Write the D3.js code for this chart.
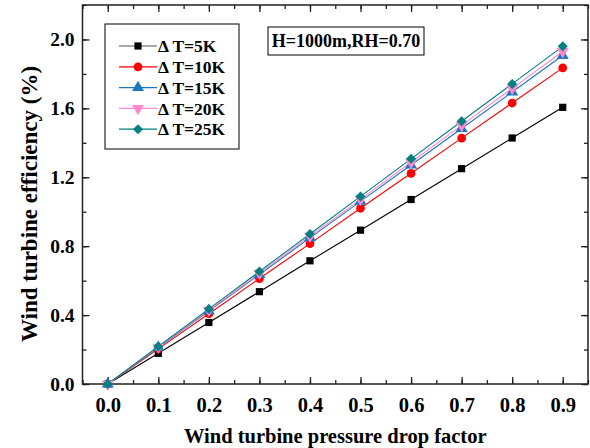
<!DOCTYPE html>
<html><head><meta charset="utf-8">
<script src="https://cdn.jsdelivr.net/npm/d3@7"></script>
<style>body{margin:0;background:#fff}svg{display:block}text{font-family:"Liberation Serif","Times New Roman",serif;font-weight:bold}</style>
</head><body>
<svg id="c" width="590" height="448"></svg>
<script>
const xValues = [0.0,0.1,0.2,0.3,0.4,0.5,0.6,0.7,0.8,0.9];
const t5  = [0,0.178,0.357,0.536,0.715,0.893,1.071,1.250,1.428,1.606];
const t10 = [0,0.204,0.408,0.612,0.815,1.020,1.223,1.427,1.631,1.835];
const t15 = [0,0.212,0.424,0.636,0.848,1.060,1.271,1.483,1.695,1.907];
const t20 = [0,0.214,0.429,0.643,0.858,1.072,1.287,1.501,1.716,1.930];
const t25 = [0,0.218,0.436,0.653,0.871,1.089,1.307,1.525,1.742,1.960];
const seriesNames = ["Δ T=5K","Δ T=10K","Δ T=15K","Δ T=20K","Δ T=25K"];
const xTicks = [0,0.1,0.2,0.3,0.4,0.5,0.6,0.7,0.8,0.9];
const yTicks = [0,0.4,0.8,1.2,1.6,2.0];
const annotation = "H=1000m,RH=0.70";
const xTitle = "Wind turbine pressure drop factor";
const yTitle = "Wind turbine efficiency (%)";

const colors = ["#000000","#ff0000","#1a78c2","#ff88cc","#008080"];
const shapes = [
  {t:d3.symbolSquare, s:52, r:0},
  {t:d3.symbolCircle, s:60, r:0},
  {t:d3.symbolTriangle, s:62, r:0},
  {t:d3.symbolTriangle, s:62, r:180},
  {t:d3.symbolSquare, s:50, r:45}
];
const allSeries = [t5,t10,t15,t20,t25];

const svg = d3.select("#c");
const L=82.5, R=588, T=5, B=384;
const x = d3.scaleLinear().domain([-0.05,0.95]).range([L,R]);
const y = d3.scaleLinear().domain([0,2.2]).range([B,T]);

const minorX = d3.range(-0.05,0.951,0.05).map(v=>+v.toFixed(2));
const minorY = d3.range(0,2.201,0.2).map(v=>+v.toFixed(1));

function styleAxis(g){ g.select(".domain").remove(); g.selectAll("line").attr("stroke","#222").attr("stroke-width",1.3); g.selectAll("text").attr("fill","#000"); }

// minor ticks
svg.append("g").attr("transform",`translate(0,${B})`).call(d3.axisBottom(x).tickValues(minorX).tickSize(-4).tickFormat("")).call(styleAxis);
svg.append("g").attr("transform",`translate(0,${T})`).call(d3.axisTop(x).tickValues(minorX).tickSize(-4).tickFormat("")).call(styleAxis);
svg.append("g").attr("transform",`translate(${L},0)`).call(d3.axisLeft(y).tickValues(minorY).tickSize(-4).tickFormat("")).call(styleAxis);
svg.append("g").attr("transform",`translate(${R},0)`).call(d3.axisRight(y).tickValues(minorY).tickSize(-4).tickFormat("")).call(styleAxis);
// major ticks
const gx = svg.append("g").attr("transform",`translate(0,${B})`).call(d3.axisBottom(x).tickValues(xTicks).tickSize(-7).tickPadding(13).tickFormat(d3.format(".1f"))).call(styleAxis);
gx.selectAll("text").attr("font-size",20.5).attr("dy","0.75em");
svg.append("g").attr("transform",`translate(0,${T})`).call(d3.axisTop(x).tickValues(xTicks).tickSize(-7).tickFormat("")).call(styleAxis);
const gy = svg.append("g").attr("transform",`translate(${L},0)`).call(d3.axisLeft(y).tickValues(yTicks).tickSize(-7).tickPadding(8).tickFormat(d3.format(".1f"))).call(styleAxis);
gy.selectAll("text").attr("font-size",19.5);
svg.append("g").attr("transform",`translate(${R},0)`).call(d3.axisRight(y).tickValues(yTicks).tickSize(-7).tickFormat("")).call(styleAxis);

// frame
svg.append("rect").attr("x",L).attr("y",T).attr("width",R-L).attr("height",B-T).attr("fill","none").attr("stroke","#222").attr("stroke-width",1.5);

// lines
const line = d3.line().x((d,i)=>x(xValues[i])).y(d=>y(d));
allSeries.forEach((s,k)=>{
  svg.append("path").datum(s).attr("d",line).attr("fill","none").attr("stroke",colors[k]).attr("stroke-width",1.1);
});
allSeries.forEach((s,k)=>{
  const sh = shapes[k];
  svg.append("g").selectAll("path").data(s).join("path")
    .attr("d",d3.symbol().type(sh.t).size(sh.s))
    .attr("transform",(d,i)=>`translate(${x(xValues[i])},${y(d)}) rotate(${sh.r})`)
    .attr("fill",colors[k]);
});

// legend
const lg = svg.append("g");
lg.append("rect").attr("x",105).attr("y",24).attr("width",134).attr("height",125).attr("fill","#fff").attr("stroke","#000").attr("stroke-width",1);
seriesNames.forEach((n,k)=>{
  const cy = 46 + k*20.8;
  lg.append("line").attr("x1",119).attr("x2",157).attr("y1",cy).attr("y2",cy).attr("stroke",k===0?"#555":colors[k]).attr("stroke-width",1.2);
  const sh = shapes[k];
  lg.append("path").attr("d",d3.symbol().type(sh.t).size(sh.s)()).attr("transform",`translate(138,${cy}) rotate(${sh.r})`).attr("fill",colors[k]);
  lg.append("text").attr("x",158).attr("y",cy).attr("dy","0.35em").attr("font-size",17.5).text(n);
});

// annotation
svg.append("rect").attr("x",268).attr("y",27).attr("width",156).attr("height",28).attr("fill","#fff").attr("stroke","#000").attr("stroke-width",1);
svg.append("text").attr("x",346).attr("y",41).attr("dy","0.35em").attr("text-anchor","middle").attr("font-size",18).text(annotation);

// titles
svg.append("text").attr("x",(L+R)/2).attr("y",443).attr("text-anchor","middle").attr("font-size",20.5).text(xTitle);
svg.append("text").attr("transform","translate(37,204) rotate(-90)").attr("text-anchor","middle").attr("font-size",23).text(yTitle);
</script>
</body></html>
